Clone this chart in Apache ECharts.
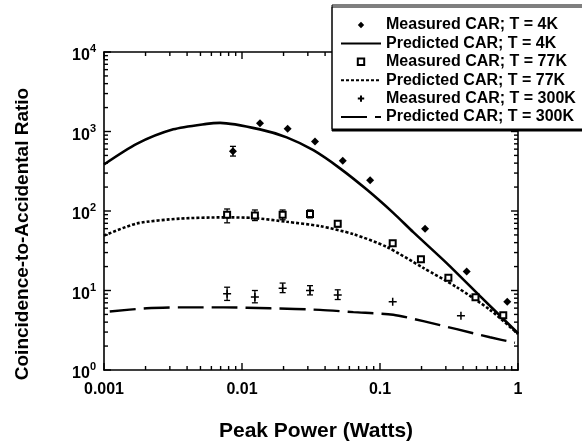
<!DOCTYPE html>
<html>
<head>
<meta charset="utf-8">
<script src="https://cdn.jsdelivr.net/npm/echarts@6/dist/echarts.min.js"></script>
<style>
html,body{margin:0;padding:0;background:#fff;}
#chart{width:582px;height:447px;}
</style>
</head>
<body>
<div id="chart"></div>
<script>
// ---- data ----
const xTickLabels = ['0.001', '0.01', '0.1', '1'];
const yTickExps = ['0', '1', '2', '3', '4'];

const meas4kX = [0.0086, 0.0135, 0.0214, 0.0338, 0.0537, 0.0848, 0.212, 0.425, 0.836];
const meas4kY = [565, 1273, 1084, 747, 430, 244, 60, 17.3, 7.2];
const err4kLo = [491, null, null, null, null, null, null, null, null];
const err4kHi = [650, null, null, null, null, null, null, null, null];

const meas77X = [0.0078, 0.0124, 0.0197, 0.0311, 0.0494, 0.1236, 0.198, 0.313, 0.492, 0.782];
const meas77Y = [89.7, 88, 89.7, 92, 69, 39.4, 24.7, 14.5, 8.2, 4.87];
const err77Lo = [71, 75.8, 77.6, 82, 63, null, null, null, null, null];
const err77Hi = [106, 103, 103, 103, 75.5, null, null, null, null, null];

const meas300X = [0.0078, 0.0124, 0.0197, 0.0311, 0.0494, 0.1236, 0.386];
const meas300Y = [9.1, 8.3, 10.7, 10.0, 8.8, 7.2, 4.8];
const err300Lo = [7.5, 7.0, 9.4, 8.8, 7.7, null, null];
const err300Hi = [11.0, 10.0, 12.4, 11.5, 10.2, null, null];

const pred4kX = [0.001, 0.001726, 0.003177, 0.005546, 0.006934, 0.01349, 0.02109, 0.03289, 0.05129, 0.08017, 0.1247, 0.1742, 0.3041, 0.5309, 1.0];
const pred4kY = [385, 699, 1064, 1248, 1283, 1064, 843, 581, 344, 186, 94.8, 54.2, 22.1, 8.5, 2.9];

const pred77X = [0.001, 0.001726, 0.003556, 0.007328, 0.01208, 0.02109, 0.03673, 0.06412, 0.1119, 0.2061, 0.3597, 0.6266, 1.0];
const pred77Y = [49, 69.7, 80.2, 83.2, 81.7, 73.1, 64.6, 51.2, 35.3, 19.2, 11.0, 5.71, 2.84];

const pred300X = [0.0011, 0.002037, 0.003556, 0.007328, 0.01596, 0.03673, 0.06412, 0.1247, 0.2061, 0.3597, 0.6266, 0.95];
const pred300Y = [5.45, 5.97, 6.14, 6.14, 5.97, 5.71, 5.34, 4.96, 4.11, 3.26, 2.58, 2.2];

const names = [
  'Measured CAR; T = 4K', 'Predicted CAR; T = 4K',
  'Measured CAR; T = 77K', 'Predicted CAR; T = 77K',
  'Measured CAR; T = 300K', 'Predicted CAR; T = 300K'
];

// ---- helpers ----
const zip = (xs, ys) => xs.map((x, i) => [x, ys[i]]);
const errRows = (xs, ys, lo, hi) => xs.map((x, i) => [x, lo[i], hi[i]]).filter(r => r[1] != null);

const xMin = 0.001, xMax = 1, yMin = 1, yMax = 10000;
// axis tick positions (decoration): [value, isMajor]
const xTicks = [], yTicks = [];
[0.001, 0.01, 0.1].forEach(d => { for (let k = 1; k <= 9; k++) xTicks.push([d * k, k === 1 ? 1 : 0]); });
xTicks.push([1, 1]);
[1, 10, 100, 1000].forEach(d => { for (let k = 1; k <= 9; k++) yTicks.push([d * k, k === 1 ? 1 : 0]); });
yTicks.push([10000, 1]);

const FONT = 'Liberation Sans';
const blk = '#000';

function renderErr(params, api) {
  const x = api.value(0), lo = api.value(1), hi = api.value(2);
  const a = api.coord([x, hi]), b = api.coord([x, lo]);
  const w = 3;
  const st = { stroke: blk, lineWidth: 1.3 };
  return { type: 'group', children: [
    { type: 'line', shape: { x1: a[0], y1: a[1], x2: b[0], y2: b[1] }, style: st },
    { type: 'line', shape: { x1: a[0] - w, y1: a[1], x2: a[0] + w, y2: a[1] }, style: st },
    { type: 'line', shape: { x1: b[0] - w, y1: b[1], x2: b[0] + w, y2: b[1] }, style: st }
  ]};
}
function renderXTick(params, api) {
  const v = api.value(0), major = api.value(2);
  const p = api.coord([v, yMin]), q = api.coord([v, yMax]);
  const L = major ? 7 : 4;
  const st = { stroke: blk, lineWidth: 1.4 };
  return { type: 'group', children: [
    { type: 'line', shape: { x1: p[0], y1: p[1], x2: p[0], y2: p[1] - L }, style: st },
    { type: 'line', shape: { x1: q[0], y1: q[1], x2: q[0], y2: q[1] + L }, style: st }
  ]};
}
function renderYTick(params, api) {
  const v = api.value(1), major = api.value(2);
  const p = api.coord([xMin, v]), q = api.coord([xMax, v]);
  const L = major ? 7 : 4;
  const st = { stroke: blk, lineWidth: 1.4 };
  return { type: 'group', children: [
    { type: 'line', shape: { x1: p[0], y1: p[1], x2: p[0] + L, y2: p[1] }, style: st },
    { type: 'line', shape: { x1: q[0], y1: q[1], x2: q[0] - L, y2: q[1] }, style: st }
  ]};
}

const chart = echarts.init(document.getElementById('chart'), null, { renderer: 'canvas' });

const axisCommon = {
  axisLine: { show: true, lineStyle: { color: blk, width: 1.6 } },
  axisTick: { show: false },
  splitLine: { show: false },
  minorTick: { show: false }
};

const hideLegendSymbol = { itemStyle: { opacity: 0 } };
const hideLegendLine = { lineStyle: { opacity: 0 } };

const option = {
  animation: false,
  backgroundColor: '#fff',
  textStyle: { fontFamily: FONT },
  grid: { left: 104, right: 64, top: 52, bottom: 66.5 },
  legend: {
    z: 20, zlevel: 0,
    data: [
      Object.assign({ name: names[0] }, hideLegendLine),
      Object.assign({ name: names[1] }, hideLegendSymbol),
      Object.assign({ name: names[2] }, hideLegendLine),
      Object.assign({ name: names[3] }, hideLegendSymbol),
      Object.assign({ name: names[4] }, hideLegendLine),
      Object.assign({ name: names[5] }, hideLegendSymbol)
    ],
    orient: 'vertical',
    left: 332, top: 5,
    padding: [12, 40, 4, 8],
    itemWidth: 40, itemHeight: 8, itemGap: 2.4,
    backgroundColor: '#fff',
    borderColor: blk, borderWidth: 1,
    shadowColor: blk, shadowBlur: 0, shadowOffsetX: 0, shadowOffsetY: 2,
    textStyle: { fontFamily: FONT, fontWeight: 'bold', fontSize: 16, color: blk, lineHeight: 16 },
    selectedMode: false
  },
  xAxis: [
    Object.assign({
      type: 'log', logBase: 10, min: xMin, max: xMax, interval: 1,
      name: 'Peak Power (Watts)', nameLocation: 'middle', nameGap: 51,
      nameTextStyle: { fontFamily: FONT, fontWeight: 'bold', fontSize: 21, color: blk, padding: [0, 0, 0, 10] },
      axisLabel: {
        margin: 12, color: blk, fontFamily: FONT, fontWeight: 'bold', fontSize: 16,
        formatter: v => xTickLabels[Math.round(Math.log10(v)) + 3] || ''
      }
    }, axisCommon),
    Object.assign({
      type: 'log', logBase: 10, min: xMin, max: xMax, interval: 1, position: 'top',
      axisLabel: { show: false }
    }, axisCommon)
  ],
  yAxis: [
    Object.assign({
      type: 'log', logBase: 10, min: yMin, max: yMax, interval: 1,
      name: 'Coincidence-to-Accidental Ratio', nameLocation: 'middle', nameGap: 72,
      nameTextStyle: { fontFamily: FONT, fontWeight: 'bold', fontSize: 19, color: blk, padding: [0, 46, 0, 0] },
      axisLabel: {
        margin: 8, color: blk,
        formatter: v => '{a|10}{b|' + yTickExps[Math.round(Math.log10(v))] + '}',
        rich: {
          a: { fontFamily: FONT, fontWeight: 'bold', fontSize: 16, color: blk, padding: [8, 0, 0, 0] },
          b: { fontFamily: FONT, fontWeight: 'bold', fontSize: 11, color: blk, padding: [0, 0, 6, 0] }
        }
      }
    }, axisCommon),
    Object.assign({
      type: 'log', logBase: 10, min: yMin, max: yMax, interval: 1, position: 'right',
      axisLabel: { show: false }
    }, axisCommon)
  ],
  series: [
    { name: names[0], type: 'line', data: zip(meas4kX, meas4kY), symbol: 'diamond', symbolSize: 8,
      showSymbol: true, showAllSymbol: true, lineStyle: { width: 0, opacity: 0 },
      itemStyle: { color: blk }, z: 5 },
    { name: names[1], type: 'line', data: zip(pred4kX, pred4kY), symbol: 'none', smooth: 0.25,
      lineStyle: { color: blk, width: 2.6, type: 'solid' }, itemStyle: { color: blk }, z: 4 },
    { name: names[2], type: 'line', data: zip(meas77X, meas77Y), symbol: 'emptyRect', symbolSize: 6,
      showSymbol: true, showAllSymbol: true, lineStyle: { width: 0, opacity: 0 },
      itemStyle: { color: blk, borderColor: blk, borderWidth: 1.5 }, z: 5 },
    { name: names[3], type: 'line', data: zip(pred77X, pred77Y), symbol: 'none', smooth: 0.25,
      lineStyle: { color: blk, width: 2.6, type: [3, 2] }, itemStyle: { color: blk }, z: 4 },
    { name: names[4], type: 'line', data: zip(meas300X, meas300Y), symbol: 'path://M5,0L5,10M0,5L10,5', symbolSize: 8,
      showSymbol: true, showAllSymbol: true, lineStyle: { width: 0, opacity: 0 },
      itemStyle: { color: 'rgba(0,0,0,0)', borderColor: blk, borderWidth: 1.5 }, z: 5 },
    { name: names[5], type: 'line', data: zip(pred300X, pred300Y), symbol: 'none', smooth: 0.25,
      lineStyle: { color: blk, width: 2.4, type: [26, 8] }, itemStyle: { color: blk }, z: 4 },
    { type: 'custom', renderItem: renderErr, data: errRows(meas4kX, meas4kY, err4kLo, err4kHi),
      encode: { x: 0, y: [1, 2] }, z: 5, silent: true },
    { type: 'custom', renderItem: renderErr, data: errRows(meas77X, meas77Y, err77Lo, err77Hi),
      encode: { x: 0, y: [1, 2] }, z: 5, silent: true },
    { type: 'custom', renderItem: renderErr, data: errRows(meas300X, meas300Y, err300Lo, err300Hi),
      encode: { x: 0, y: [1, 2] }, z: 5, silent: true },
    { type: 'custom', renderItem: renderXTick, data: xTicks.map(t => [t[0], yMin, t[1]]),
      encode: { x: 0, y: 1 }, clip: false, z: 3, silent: true },
    { type: 'custom', renderItem: renderYTick, data: yTicks.map(t => [xMin, t[0], t[1]]),
      encode: { x: 0, y: 1 }, clip: false, z: 3, silent: true }
  ]
};
chart.setOption(option);
</script>
</body>
</html>
